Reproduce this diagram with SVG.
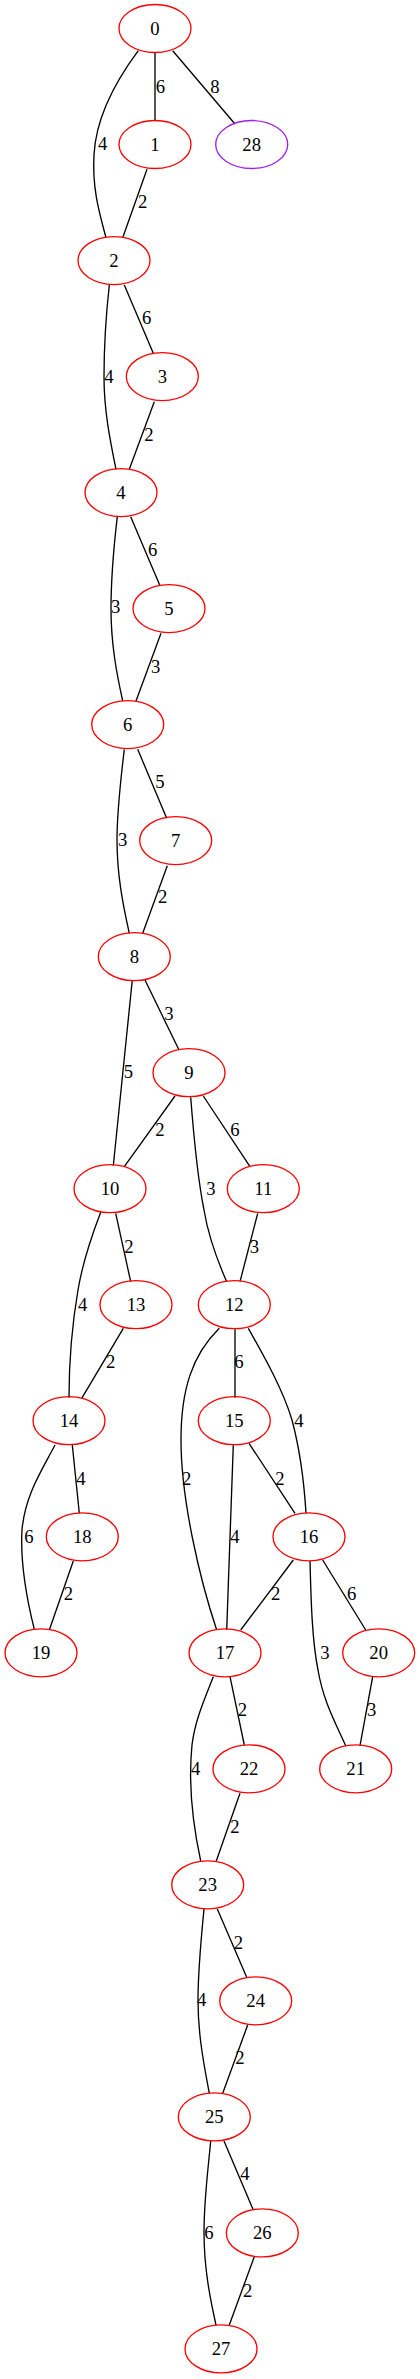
<svg xmlns="http://www.w3.org/2000/svg" width="420" height="2379" viewBox="0 0 420 2379">
<style>
.n ellipse{fill:none;stroke:#ff0000;stroke-width:1.33}
.n.p ellipse{stroke:#a020f0}
.n text{font-family:"Liberation Serif","Times New Roman",serif;font-size:18.67px;text-anchor:middle;fill:#000}
#edges path{fill:none;stroke:#000;stroke-width:1.33}
#edges text{font-family:"Liberation Serif","Times New Roman",serif;font-size:18.67px;text-anchor:middle;fill:#000}
</style>
<rect width="420" height="2379" fill="#fff"/>
<g id="edges">
<path d="M155,52.5 L155,120.5"/><text x="160.3" y="92.7">6</text>
<path d="M138.3,50.7 C118,78 96,115 94,155 C92,190 100,215 106,237.7"/><text x="102.7" y="150.3">4</text>
<path d="M172.7,50.7 L235,124"/><text x="215" y="92.7">8</text>
<path d="M147,169.3 L122.7,237.7"/><text x="142.7" y="208.3">2</text>
<path d="M124.3,285 L153.3,353.3"/><text x="146.7" y="324.3">6</text>
<path d="M109.3,285 C106,315 104,350 104,377 C104,410 110,440 116,469.3"/><text x="109" y="382.7">4</text>
<path d="M154.3,401.7 L129.3,469.3"/><text x="149" y="441">2</text>
<path d="M130.7,516.7 L160,585.7"/><text x="152.7" y="556">6</text>
<path d="M117.3,516.7 C114,545 111,580 111,609 C111,645 117,675 122.7,701"/><text x="115.7" y="613.3">3</text>
<path d="M161,633.3 L136,701"/><text x="155.7" y="672.7">3</text>
<path d="M137.7,749.3 L166.7,818.3"/><text x="160" y="788.3">5</text>
<path d="M124.3,749.3 C121,777 117,810 117,840 C117,875 123,905 129.3,933.3"/><text x="122.7" y="846">3</text>
<path d="M167.3,865.7 L142.7,933.3"/><text x="162.7" y="902.7">2</text>
<path d="M145,980 L179,1050"/><text x="169" y="1020.3">3</text>
<path d="M132.3,980 L113.3,1165.7"/><text x="128.3" y="1078.3">5</text>
<path d="M175,1096 L124.3,1166.7"/><text x="160" y="1136">2</text>
<path d="M203.3,1096 L250,1166.7"/><text x="235" y="1136">6</text>
<path d="M190.7,1097.3 C194,1140 198,1180 204,1210 C209,1240 218,1262 226.7,1281.7"/><text x="211" y="1195">3</text>
<path d="M257.7,1213.3 L240,1281.7"/><text x="254.3" y="1252.7">3</text>
<path d="M115.7,1213.3 L130.7,1281.7"/><text x="129" y="1252.7">2</text>
<path d="M100.7,1212.3 C92,1235 83,1260 78,1290 C72,1325 69,1360 69,1397.7"/><text x="82.7" y="1311">4</text>
<path d="M123.3,1328.3 L81.7,1398.3"/><text x="110.7" y="1368.3">2</text>
<path d="M235,1329.3 L235,1397.7"/><text x="239" y="1368.3">6</text>
<path d="M219.3,1328.3 C192,1355 181,1390 181,1440 C181,1500 200,1580 216.7,1630"/><text x="186.7" y="1485.3">2</text>
<path d="M248.3,1328.3 C265,1358 283,1390 292,1420 C300,1450 304,1480 306,1513.3"/><text x="299" y="1427">4</text>
<path d="M249,1443.3 L295,1513.3"/><text x="280" y="1485.3">2</text>
<path d="M233.3,1445 L226.7,1630"/><text x="235" y="1542.7">4</text>
<path d="M72.3,1445 L79.3,1513.3"/><text x="81" y="1485.3">4</text>
<path d="M55,1445 C42,1470 25,1495 22,1530 C20,1565 27,1600 34.3,1629.3"/><text x="29" y="1542.7">6</text>
<path d="M73.3,1561 L49.3,1630"/><text x="68.3" y="1600.3">2</text>
<path d="M293.3,1560 L240.7,1630"/><text x="275.7" y="1600.3">2</text>
<path d="M322.7,1560 L365.7,1630"/><text x="351.7" y="1600.3">6</text>
<path d="M310,1561 C311,1600 312,1640 318,1670 C323,1700 335,1722 345.7,1745.7"/><text x="325" y="1658.7">3</text>
<path d="M372.7,1676.7 L360,1745.7"/><text x="371.7" y="1716">3</text>
<path d="M230,1676.7 L244.3,1745"/><text x="242.3" y="1716">2</text>
<path d="M213.3,1676.7 C205,1698 195,1720 192,1745 C188,1785 194,1830 200.7,1861"/><text x="195.7" y="1775">4</text>
<path d="M240,1793.3 L216,1861.7"/><text x="235" y="1832.7">2</text>
<path d="M217.3,1909 L246.7,1977.3"/><text x="238.3" y="1948.7">2</text>
<path d="M204,1909 C201,1940 198,1970 198,2000 C198,2035 204,2065 209.3,2093.3"/><text x="201.7" y="2006">4</text>
<path d="M247.7,2025 L222.7,2093.3"/><text x="240" y="2064.3">2</text>
<path d="M224,2141 L253.3,2210"/><text x="245" y="2180">4</text>
<path d="M210.7,2141 C208,2170 204,2200 204,2232 C204,2268 210,2298 216,2325"/><text x="209" y="2238.7">6</text>
<path d="M254.3,2256.7 L229.3,2325"/><text x="247.7" y="2296.7">2</text>
</g>
<g id="node0" class="n"><ellipse cx="155" cy="28.5" rx="36" ry="24"/><text x="155" y="34.5">0</text></g>
<g id="node1" class="n"><ellipse cx="155" cy="144.5" rx="36" ry="24"/><text x="155" y="150.5">1</text></g>
<g id="node28" class="n p"><ellipse cx="251.7" cy="144.5" rx="36" ry="24"/><text x="251.7" y="150.5">28</text></g>
<g id="node2" class="n"><ellipse cx="114" cy="260.6" rx="36" ry="24"/><text x="114" y="266.6">2</text></g>
<g id="node3" class="n"><ellipse cx="162.3" cy="376.6" rx="36" ry="24"/><text x="162.3" y="382.6">3</text></g>
<g id="node4" class="n"><ellipse cx="121" cy="492.6" rx="36" ry="24"/><text x="121" y="498.6">4</text></g>
<g id="node5" class="n"><ellipse cx="169" cy="608.6" rx="36" ry="24"/><text x="169" y="614.6">5</text></g>
<g id="node6" class="n"><ellipse cx="127.7" cy="724.6" rx="36" ry="24"/><text x="127.7" y="730.6">6</text></g>
<g id="node7" class="n"><ellipse cx="175.7" cy="840.6" rx="36" ry="24"/><text x="175.7" y="846.6">7</text></g>
<g id="node8" class="n"><ellipse cx="134.3" cy="956.7" rx="36" ry="24"/><text x="134.3" y="962.7">8</text></g>
<g id="node9" class="n"><ellipse cx="189" cy="1072.7" rx="36" ry="24"/><text x="189" y="1078.7">9</text></g>
<g id="node10" class="n"><ellipse cx="110" cy="1188.7" rx="36" ry="24"/><text x="110" y="1194.7">10</text></g>
<g id="node11" class="n"><ellipse cx="263.3" cy="1188.7" rx="36" ry="24"/><text x="263.3" y="1194.7">11</text></g>
<g id="node12" class="n"><ellipse cx="234.3" cy="1304.7" rx="36" ry="24"/><text x="234.3" y="1310.7">12</text></g>
<g id="node13" class="n"><ellipse cx="136" cy="1304.7" rx="36" ry="24"/><text x="136" y="1310.7">13</text></g>
<g id="node14" class="n"><ellipse cx="69" cy="1420.7" rx="36" ry="24"/><text x="69" y="1426.7">14</text></g>
<g id="node15" class="n"><ellipse cx="234.3" cy="1420.7" rx="36" ry="24"/><text x="234.3" y="1426.7">15</text></g>
<g id="node16" class="n"><ellipse cx="309" cy="1536.8" rx="36" ry="24"/><text x="309" y="1542.8">16</text></g>
<g id="node18" class="n"><ellipse cx="82.3" cy="1536.8" rx="36" ry="24"/><text x="82.3" y="1542.8">18</text></g>
<g id="node17" class="n"><ellipse cx="225" cy="1652.8" rx="36" ry="24"/><text x="225" y="1658.8">17</text></g>
<g id="node19" class="n"><ellipse cx="41" cy="1652.8" rx="36" ry="24"/><text x="41" y="1658.8">19</text></g>
<g id="node20" class="n"><ellipse cx="378.7" cy="1652.8" rx="36" ry="24"/><text x="378.7" y="1658.8">20</text></g>
<g id="node21" class="n"><ellipse cx="355.7" cy="1768.8" rx="36" ry="24"/><text x="355.7" y="1774.8">21</text></g>
<g id="node22" class="n"><ellipse cx="249" cy="1768.8" rx="36" ry="24"/><text x="249" y="1774.8">22</text></g>
<g id="node23" class="n"><ellipse cx="207.7" cy="1884.8" rx="36" ry="24"/><text x="207.7" y="1890.8">23</text></g>
<g id="node24" class="n"><ellipse cx="255.7" cy="2000.8" rx="36" ry="24"/><text x="255.7" y="2006.8">24</text></g>
<g id="node25" class="n"><ellipse cx="214.3" cy="2116.9" rx="36" ry="24"/><text x="214.3" y="2122.9">25</text></g>
<g id="node26" class="n"><ellipse cx="262.3" cy="2232.9" rx="36" ry="24"/><text x="262.3" y="2238.9">26</text></g>
<g id="node27" class="n"><ellipse cx="221" cy="2348.9" rx="36" ry="24"/><text x="221" y="2354.9">27</text></g>
</svg>
